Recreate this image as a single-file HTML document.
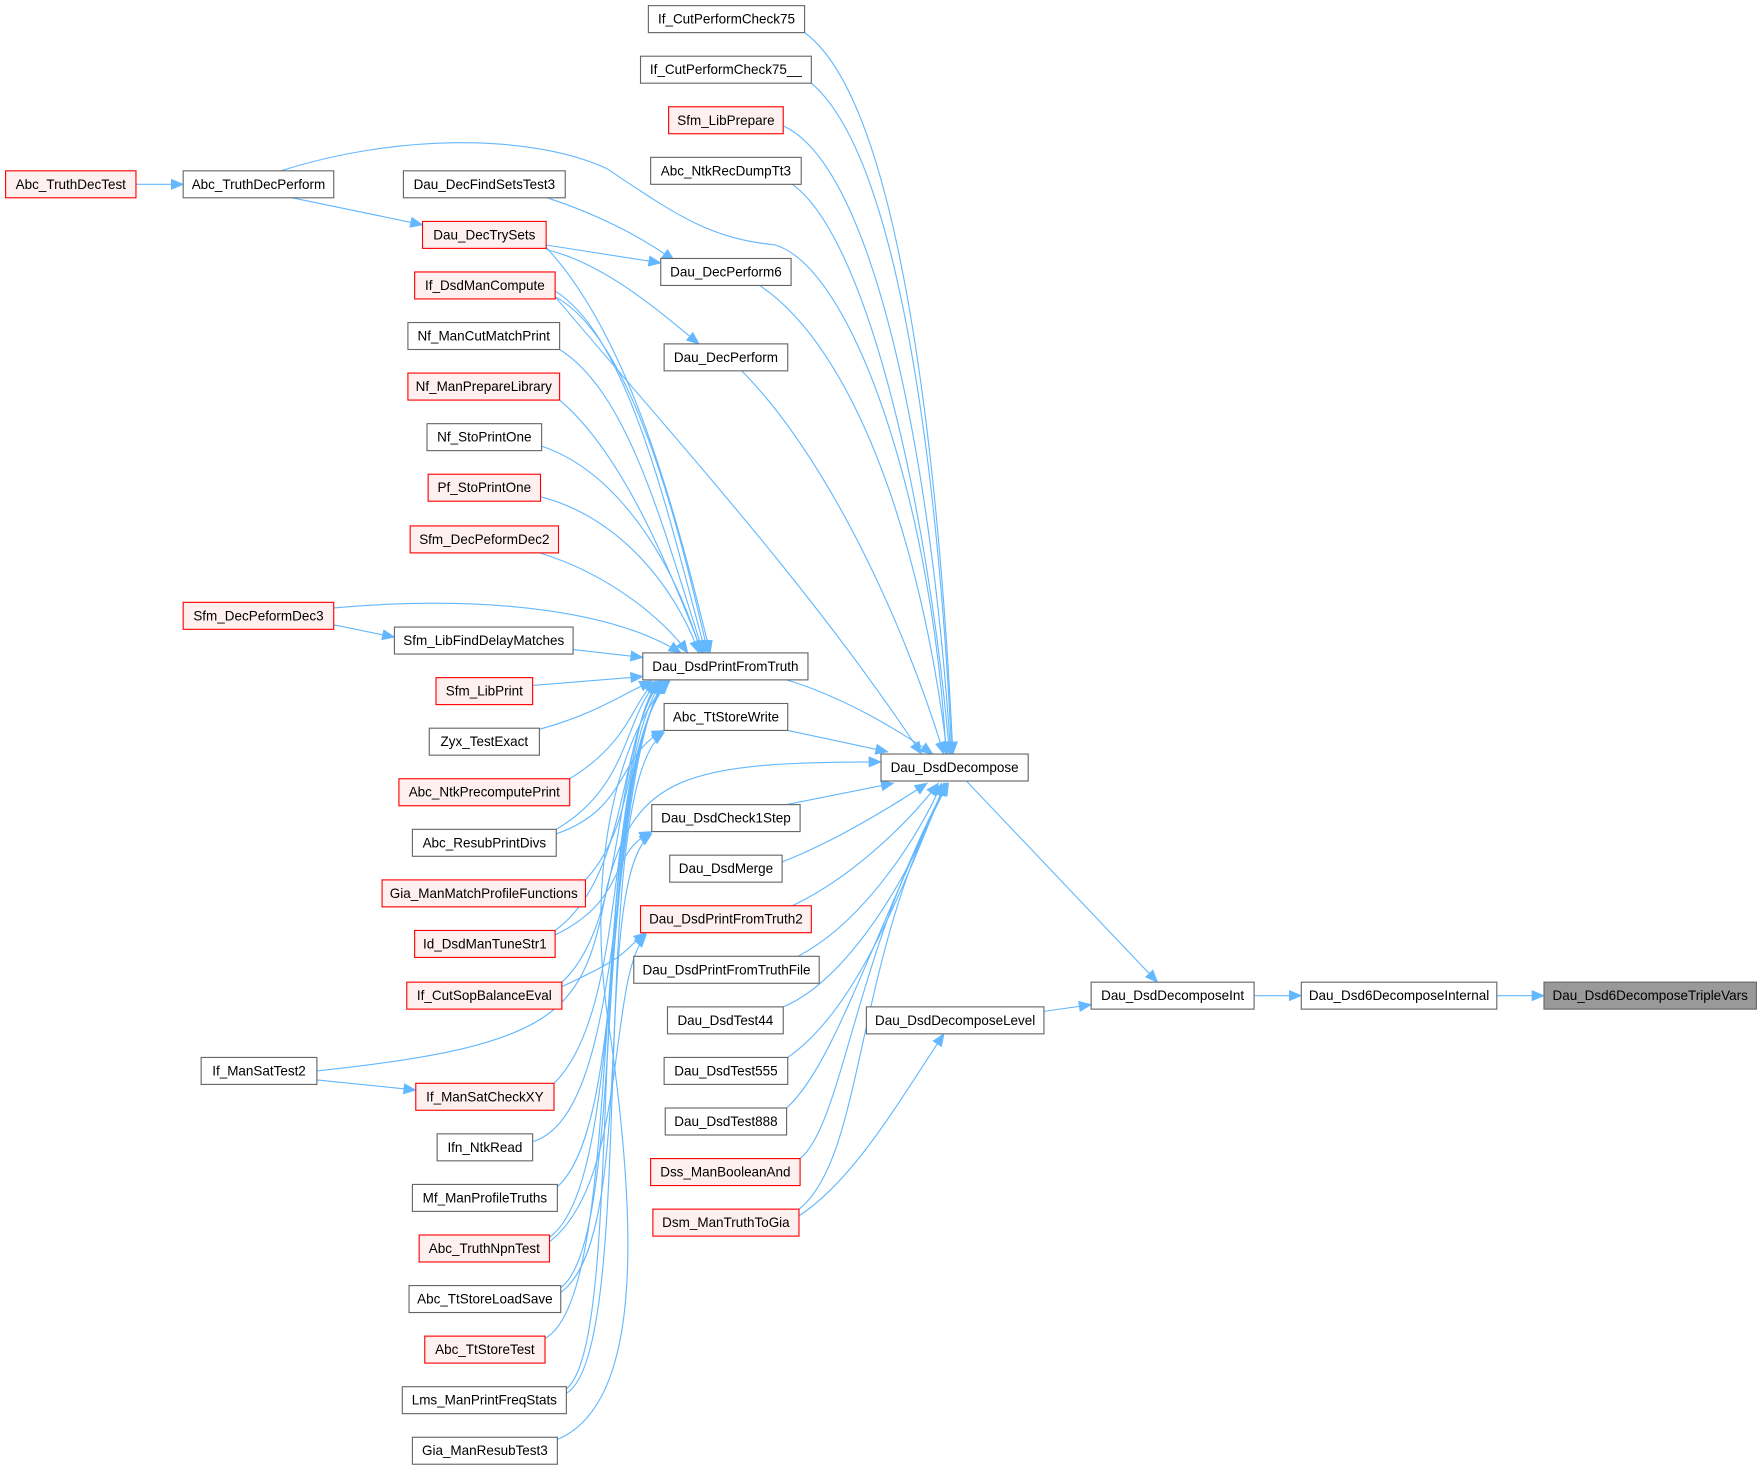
<!DOCTYPE html>
<html><head><meta charset="utf-8"><style>
html,body{margin:0;padding:0;background:#fff;}
svg{display:block}
text{font-family:"Liberation Sans",Arial,sans-serif;font-size:12px;fill:#000;text-anchor:middle;dominant-baseline:central}
.n{fill:#fff;stroke:#666;stroke-width:1}
.r{fill:#fff0f0;stroke:#f00;stroke-width:1}
.g{fill:#999;stroke:#666;stroke-width:1}
path.e{fill:none;stroke:#63b8ff;stroke-width:1}
</style></head><body>
<svg width="1762" height="1471" viewBox="0 0 1568 1309" xmlns="http://www.w3.org/2000/svg">
<defs><marker id="a" markerUnits="userSpaceOnUse" markerWidth="12" markerHeight="10" refX="11" refY="5" orient="auto"><path d="M0,0 L12,5 L0,10 z" fill="#63b8ff"/></marker></defs>
<g class="edges">
<path class="e" marker-end="url(#a)" d="M716,29 C800,90 835,400 848,671"/>
<path class="e" marker-end="url(#a)" d="M722,74 C800,140 835,420 847,671"/>
<path class="e" marker-end="url(#a)" d="M697,112 C780,150 830,420 846,671"/>
<path class="e" marker-end="url(#a)" d="M705,164 C770,210 825,440 845,671"/>
<path class="e" marker-end="url(#a)" d="M676,254 C760,310 820,480 843,671"/>
<path class="e" marker-end="url(#a)" d="M660,330 C730,400 800,540 840,671"/>
<path class="e" marker-end="url(#a)" d="M250,152 C350,120 470,118 540,150 C600,190 630,212 690,218 C760,240 830,450 842,671"/>
<path class="e" marker-end="url(#a)" d="M494,264 C600,390 720,520 820,671"/>
<path class="e" marker-end="url(#a)" d="M700,605 C750,620 800,650 830,671"/>
<path class="e" marker-end="url(#a)" d="M701,650 L790,669"/>
<path class="e" marker-end="url(#a)" d="M282,953 C500,930 520,900 540,790 C565,690 610,678 784,678"/>
<path class="e" marker-end="url(#a)" d="M700,716 L795,697"/>
<path class="e" marker-end="url(#a)" d="M696,767 C740,750 790,720 825,697"/>
<path class="e" marker-end="url(#a)" d="M705,806 C760,780 810,730 835,697"/>
<path class="e" marker-end="url(#a)" d="M710,851 C770,820 820,740 838,697"/>
<path class="e" marker-end="url(#a)" d="M697,896 C760,870 820,760 840,697"/>
<path class="e" marker-end="url(#a)" d="M701,941 C760,900 800,800 841,697"/>
<path class="e" marker-end="url(#a)" d="M700,986 C740,950 770,850 842,697"/>
<path class="e" marker-end="url(#a)" d="M712,1031 C750,1000 760,850 843,697"/>
<path class="e" marker-end="url(#a)" d="M711,1076 C770,1030 760,850 844,697"/>
<path class="e" marker-end="url(#a)" d="M860,695 L1030,874"/>
<path class="e" marker-end="url(#a)" d="M929,900 L971,894"/>
<path class="e" marker-end="url(#a)" d="M1116,886 L1158,886"/>
<path class="e" marker-end="url(#a)" d="M1332,886 L1374,886"/>
<path class="e" marker-end="url(#a)" d="M711,1082 C760,1050 800,980 840,920"/>
<path class="e" marker-end="url(#a)" d="M121,164 L163,164"/>
<path class="e" marker-end="url(#a)" d="M260,176 L376,200"/>
<path class="e" marker-end="url(#a)" d="M486,218 L588,234"/>
<path class="e" marker-end="url(#a)" d="M486,222 C540,235 590,280 622,306"/>
<path class="e" marker-end="url(#a)" d="M487,176 C530,190 570,210 600,232"/>
<path class="e" marker-end="url(#a)" d="M297,556 L351,567"/>
<path class="e" marker-end="url(#a)" d="M282,961 L370,970"/>
<path class="e" marker-end="url(#a)" d="M486,220 C560,300 600,450 632,581"/>
<path class="e" marker-end="url(#a)" d="M494,264 C560,300 600,450 630,581"/>
<path class="e" marker-end="url(#a)" d="M494,259 C560,300 595,460 628,581"/>
<path class="e" marker-end="url(#a)" d="M498,311 C560,350 590,470 626,581"/>
<path class="e" marker-end="url(#a)" d="M498,356 C550,400 590,490 625,581"/>
<path class="e" marker-end="url(#a)" d="M482,397 C550,420 600,500 624,581"/>
<path class="e" marker-end="url(#a)" d="M481,442 C550,460 600,520 622,581"/>
<path class="e" marker-end="url(#a)" d="M480,492 C540,510 590,550 612,581"/>
<path class="e" marker-end="url(#a)" d="M297,541 C420,530 540,540 606,581"/>
<path class="e" marker-end="url(#a)" d="M510,578 L572,585"/>
<path class="e" marker-end="url(#a)" d="M474,610 L572,602"/>
<path class="e" marker-end="url(#a)" d="M480,649 C530,635 550,620 580,606"/>
<path class="e" marker-end="url(#a)" d="M507,693 C560,660 560,630 583,606"/>
<path class="e" marker-end="url(#a)" d="M495,738 C560,700 555,640 585,606"/>
<path class="e" marker-end="url(#a)" d="M521,783 C570,730 555,650 586,606"/>
<path class="e" marker-end="url(#a)" d="M494,828 C560,780 550,660 587,606"/>
<path class="e" marker-end="url(#a)" d="M500,874 C560,820 545,660 588,606"/>
<path class="e" marker-end="url(#a)" d="M493,964 C560,900 540,680 589,606"/>
<path class="e" marker-end="url(#a)" d="M474,1016 C560,990 540,700 590,606"/>
<path class="e" marker-end="url(#a)" d="M496,1056 C560,1000 535,700 591,606"/>
<path class="e" marker-end="url(#a)" d="M489,1101 C560,1050 530,700 592,606"/>
<path class="e" marker-end="url(#a)" d="M499,1146 C560,1100 525,700 593,606"/>
<path class="e" marker-end="url(#a)" d="M485,1191 C560,1150 520,700 594,606"/>
<path class="e" marker-end="url(#a)" d="M504,1236 C560,1190 515,700 595,606"/>
<path class="e" marker-end="url(#a)" d="M496,1281 C570,1250 570,1100 540,900 C520,750 560,640 596,606"/>
<path class="e" marker-end="url(#a)" d="M495,742 C560,720 550,670 591,650"/>
<path class="e" marker-end="url(#a)" d="M504,1240 C570,1200 520,700 591,652"/>
<path class="e" marker-end="url(#a)" d="M494,832 C560,800 540,760 580,740"/>
<path class="e" marker-end="url(#a)" d="M499,1150 C570,1100 525,780 580,742"/>
<path class="e" marker-end="url(#a)" d="M500,878 C560,850 550,850 575,830"/>
<path class="e" marker-end="url(#a)" d="M489,1105 C560,1050 540,870 575,832"/>
</g>
<g class="nodes">
<rect class="n" x="577" y="5" width="139" height="24"/><text x="646.5" y="17">If_CutPerformCheck75</text>
<rect class="n" x="570" y="50" width="152" height="24"/><text x="646" y="62">If_CutPerformCheck75__</text>
<rect class="r" x="595" y="95" width="102" height="24"/><text x="646" y="107">Sfm_LibPrepare</text>
<rect class="n" x="579" y="140" width="134" height="24"/><text x="646" y="152">Abc_NtkRecDumpTt3</text>
<rect class="n" x="588" y="230" width="116" height="24"/><text x="646" y="242">Dau_DecPerform6</text>
<rect class="n" x="591" y="306" width="110" height="24"/><text x="646" y="318">Dau_DecPerform</text>
<rect class="n" x="572" y="581" width="147" height="24"/><text x="645.5" y="593">Dau_DsdPrintFromTruth</text>
<rect class="n" x="591" y="626" width="110" height="24"/><text x="646" y="638">Abc_TtStoreWrite</text>
<rect class="n" x="580" y="716" width="132" height="24"/><text x="646" y="728">Dau_DsdCheck1Step</text>
<rect class="n" x="596" y="761" width="100" height="24"/><text x="646" y="773">Dau_DsdMerge</text>
<rect class="r" x="570" y="806" width="152" height="24"/><text x="646" y="818">Dau_DsdPrintFromTruth2</text>
<rect class="n" x="564" y="851" width="165" height="24"/><text x="646.5" y="863">Dau_DsdPrintFromTruthFile</text>
<rect class="n" x="594" y="896" width="103" height="24"/><text x="645.5" y="908">Dau_DsdTest44</text>
<rect class="n" x="591" y="941" width="110" height="24"/><text x="646" y="953">Dau_DsdTest555</text>
<rect class="n" x="592" y="986" width="108" height="24"/><text x="646" y="998">Dau_DsdTest888</text>
<rect class="r" x="579" y="1031" width="133" height="24"/><text x="645.5" y="1043">Dss_ManBooleanAnd</text>
<rect class="r" x="581" y="1076" width="130" height="24"/><text x="646" y="1088">Dsm_ManTruthToGia</text>
<rect class="n" x="359" y="152" width="144" height="24"/><text x="431" y="164">Dau_DecFindSetsTest3</text>
<rect class="r" x="376" y="197" width="110" height="24"/><text x="431" y="209">Dau_DecTrySets</text>
<rect class="r" x="369" y="242" width="125" height="24"/><text x="431.5" y="254">If_DsdManCompute</text>
<rect class="n" x="363" y="287" width="135" height="24"/><text x="430.5" y="299">Nf_ManCutMatchPrint</text>
<rect class="r" x="363" y="332" width="135" height="24"/><text x="430.5" y="344">Nf_ManPrepareLibrary</text>
<rect class="n" x="380" y="377" width="102" height="24"/><text x="431" y="389">Nf_StoPrintOne</text>
<rect class="r" x="381" y="422" width="100" height="24"/><text x="431" y="434">Pf_StoPrintOne</text>
<rect class="r" x="365" y="468" width="132" height="24"/><text x="431" y="480">Sfm_DecPeformDec2</text>
<rect class="n" x="351" y="558" width="159" height="24"/><text x="430.5" y="570">Sfm_LibFindDelayMatches</text>
<rect class="r" x="388" y="603" width="86" height="24"/><text x="431" y="615">Sfm_LibPrint</text>
<rect class="n" x="382" y="648" width="98" height="24"/><text x="431" y="660">Zyx_TestExact</text>
<rect class="r" x="355" y="693" width="152" height="24"/><text x="431" y="705">Abc_NtkPrecomputePrint</text>
<rect class="n" x="367" y="738" width="128" height="24"/><text x="431" y="750">Abc_ResubPrintDivs</text>
<rect class="r" x="340" y="783" width="181" height="24"/><text x="430.5" y="795">Gia_ManMatchProfileFunctions</text>
<rect class="r" x="369" y="828" width="125" height="24"/><text x="431.5" y="840">Id_DsdManTuneStr1</text>
<rect class="r" x="362" y="874" width="138" height="24"/><text x="431" y="886">If_CutSopBalanceEval</text>
<rect class="r" x="370" y="964" width="123" height="24"/><text x="431.5" y="976">If_ManSatCheckXY</text>
<rect class="n" x="389" y="1009" width="85" height="24"/><text x="431.5" y="1021">Ifn_NtkRead</text>
<rect class="n" x="367" y="1054" width="129" height="24"/><text x="431.5" y="1066">Mf_ManProfileTruths</text>
<rect class="r" x="373" y="1099" width="116" height="24"/><text x="431" y="1111">Abc_TruthNpnTest</text>
<rect class="n" x="364" y="1144" width="135" height="24"/><text x="431.5" y="1156">Abc_TtStoreLoadSave</text>
<rect class="r" x="378" y="1189" width="107" height="24"/><text x="431.5" y="1201">Abc_TtStoreTest</text>
<rect class="n" x="358" y="1234" width="146" height="24"/><text x="431" y="1246">Lms_ManPrintFreqStats</text>
<rect class="n" x="367" y="1279" width="129" height="24"/><text x="431.5" y="1291">Gia_ManResubTest3</text>
<rect class="r" x="5" y="152" width="116" height="24"/><text x="63" y="164">Abc_TruthDecTest</text>
<rect class="n" x="163" y="152" width="134" height="24"/><text x="230" y="164">Abc_TruthDecPerform</text>
<rect class="r" x="163" y="536" width="134" height="24"/><text x="230" y="548">Sfm_DecPeformDec3</text>
<rect class="n" x="179" y="941" width="103" height="24"/><text x="230.5" y="953">If_ManSatTest2</text>
<rect class="n" x="784" y="671" width="131" height="24"/><text x="849.5" y="683">Dau_DsdDecompose</text>
<rect class="n" x="771" y="896" width="158" height="24"/><text x="850" y="908">Dau_DsdDecomposeLevel</text>
<rect class="n" x="971" y="874" width="145" height="24"/><text x="1043.5" y="886">Dau_DsdDecomposeInt</text>
<rect class="n" x="1158" y="874" width="174" height="24"/><text x="1245" y="886">Dau_Dsd6DecomposeInternal</text>
<rect class="g" x="1374" y="874" width="189" height="24"/><text x="1468.5" y="886">Dau_Dsd6DecomposeTripleVars</text>
</g>
</svg>
</body></html>
